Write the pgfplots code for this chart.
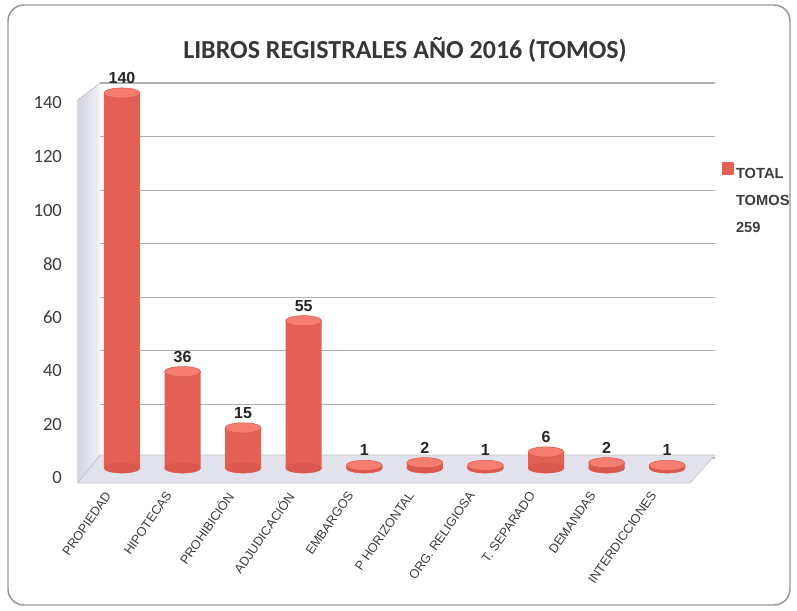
\documentclass[border=0pt]{standalone}
\usepackage{pgfplots}
\pgfplotsset{compat=1.18}
\usepackage{pgfplotstable}
\usepackage{fontspec}
\setmainfont{Carlito}
\newfontfamily\arial{Liberation Sans}
\definecolor{bardark}{RGB}{228,96,84}
\definecolor{barlight}{RGB}{252,144,130}
\definecolor{barrim}{RGB}{220,88,78}
\definecolor{bartop}{RGB}{246,126,112}
\definecolor{legsq}{RGB}{232,110,118}
\definecolor{txt}{RGB}{60,60,60}
\definecolor{floorc}{RGB}{226,226,236}
\definecolor{wallL}{RGB}{212,212,226}
\definecolor{wallR}{RGB}{240,240,246}

\pgfplotstableread{
x value
0 140
1 36
2 15
3 55
4 1
5 2
6 1
7 6
8 2
9 1
}\tomos

\begin{document}
\begin{tikzpicture}
% page frame: 797 x 611 px at 0.75pt/px
\path (0,0) rectangle (597.75pt,458.25pt);
\draw[draw={rgb,255:red,150;green,150;blue,150}, line width=1.1pt, rounded corners=12pt]
  (6pt,4.5pt) rectangle (592.5pt,454.5pt);
\node[font=\bfseries\fontsize{19.5}{22}\selectfont, text={rgb,255:red,55;green,55;blue,55}]
  at (303.75pt,421pt) {LIBROS REGISTRALES AÑO 2016 (TOMOS)};
\begin{axis}[
  at={(75pt,107.25pt)}, anchor=south west,
  scale only axis, width=461.25pt, height=281.25pt,
  xmin=-0.363, xmax=9.79, ymin=0, ymax=140,
  clip=false,
  axis line style={draw=none},
  major tick length=0pt,
  ytick={0,20,...,140},
  ymajorgrids,
  major grid style={yshift=7.5pt, draw={rgb,255:red,175;green,175;blue,175}, line width=0.8pt},
  xtick=data,
  xticklabels={PROPIEDAD, HIPOTECAS, PROHIBICIÓN, ADJUDICACIÓN, EMBARGOS, P HORIZONTAL, ORG. RELIGIOSA, T. SEPARADO, DEMANDAS, INTERDICCIONES},
  xticklabel style={xshift=-14pt, yshift=-12pt, rotate=55, anchor=north east, font=\arial\fontsize{9.5}{11}\selectfont, text=txt},
  yticklabel style={xshift=-25pt, yshift=-7.5pt, font=\fontsize{14}{16}\selectfont, text=txt},
  /pgf/number format/assume math mode=true,
  legend style={at={(1.011,0.816)}, anchor=north west, draw=none, fill=none, inner sep=0pt,
    font=\arial\bfseries\fontsize{11}{13}\selectfont, text=txt,
    legend cell align=left},
  legend image code/.code={\fill[legsq] (0pt,-1pt) rectangle (8.5pt,8pt);},
]
% left wall and floor (3-D decoration)
\fill[left color=wallL, right color=wallR] (axis cs:-0.727,-5.6) -- (axis cs:-0.727,137.4) -- (axis cs:-0.363,143.7) -- (axis cs:-0.363,4.85) -- cycle;
\fill[floorc, draw={rgb,255:red,195;green,195;blue,205}, line width=0.5pt]
  (axis cs:-0.363,4.85) -- (axis cs:9.79,4.85) -- (axis cs:9.38,-5.6) -- (axis cs:-0.727,-5.6) -- cycle;
% bottom ellipses
\addplot[only marks, mark=*, mark size=13.5pt, mark options={yscale=0.28, fill=barrim, draw=barrim}, forget plot]
  coordinates {(0,0) (1,0) (2,0) (3,0) (4,0) (5,0) (6,0) (7,0) (8,0) (9,0)};
% cylinder bodies
\addplot[ybar, bar width=27pt, draw=none, left color=bardark, middle color=barlight, right color=bardark,
  nodes near coords, every node near coord/.append style={anchor=south, yshift=3.5pt, font=\arial\bfseries\fontsize{12}{14}\selectfont, text=black!85}]
  table[x=x, y=value] {\tomos};
\addlegendentry{\begin{tabular}[t]{@{}l@{}}TOTAL\\[7.5pt]TOMOS\\[7.5pt]259\end{tabular}}
% cylinder tops
\addplot[only marks, mark=*, mark size=13.5pt, mark options={yscale=0.28, fill=bartop, draw=barrim, line width=0.4pt}, forget plot]
  table[x=x, y=value] {\tomos};
\end{axis}
\end{tikzpicture}
\end{document}
